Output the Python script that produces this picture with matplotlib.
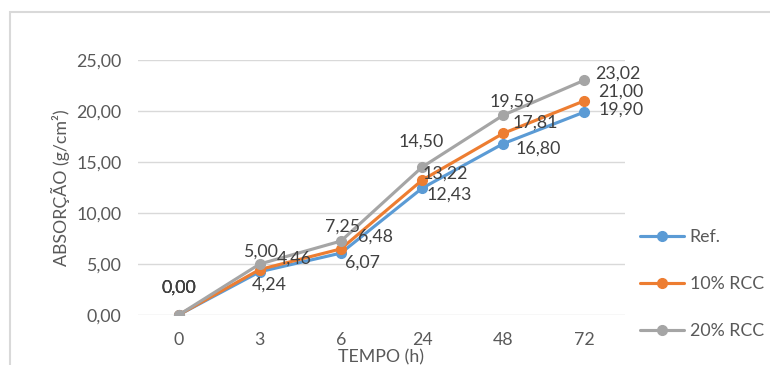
import matplotlib
matplotlib.use("Agg")
import matplotlib.pyplot as plt
from matplotlib.patches import Rectangle
import numpy as np

categories = ["0", "3", "6", "24", "48", "72"]
ref_vals = [0.00, 4.24, 6.07, 12.43, 16.80, 19.90]
rcc10_vals = [0.00, 4.46, 6.48, 13.22, 17.81, 21.00]
rcc20_vals = [0.00, 5.00, 7.25, 14.50, 19.59, 23.02]
series_names = ["Ref.", "10% RCC", "20% RCC"]
yticks = [0, 5, 10, 15, 20, 25]

colors = ["#5B9BD5", "#ED7D31", "#A5A5A5"]
# label offsets in pixels (dx of label centre, dy) per series / point
offsets = [
    [(0, 27), (9, -13), (22, -10), (27, -6), (35, -5), (37, 2)],
    [(0, 27), (34, 11), (35, 12), (23, 7), (32, 11), (36, 9)],
    [(0, 27), (1, 12), (2, 14), (-1, 25), (9, 14), (33, 7)],
]

FS = 12.8
plt.rcParams['font.family'] = ['Lato', 'DejaVu Sans']

fig = plt.figure(figsize=(7.7, 3.65), dpi=100)
W, H = 770, 365
ax = fig.add_axes([138 / W, 1 - 315 / H, (625 - 138) / W, (315 - 60) / H])

x = np.arange(len(categories))
all_vals = [ref_vals, rcc10_vals, rcc20_vals]
for i, (vals, name) in enumerate(zip(all_vals, series_names)):
    ax.plot(x, vals, color=colors[i], lw=2.25, marker='o', ms=7,
            label=name, zorder=3 + i, solid_capstyle='round')
    for j, v in enumerate(vals):
        dx, dy = offsets[i][j]
        ax.annotate(f"{v:.2f}".replace('.', ','), (x[j], v),
                    xytext=(dx, dy), textcoords='offset pixels',
                    ha='center', va='center', fontsize=FS, color='#404040',
                    zorder=10)

ax.set_xlim(-0.5, len(categories) - 0.5)
ax.set_ylim(0, 25)
ax.set_yticks(yticks)
ax.set_yticklabels([f"{t:.2f}".replace('.', ',') for t in yticks])
ax.set_xticks(x)
ax.set_xticklabels(categories)
ax.tick_params(axis='both', length=0, labelsize=FS, labelcolor='#595959')
ax.tick_params(axis='y', pad=12)
ax.tick_params(axis='x', pad=12)
ax.grid(axis='y', color='#D9D9D9', lw=1)
ax.set_axisbelow(True)
for s in ax.spines.values():
    s.set_visible(False)
ax.set_facecolor('none')

fig.text(381 / W, 1 - 357 / H, "TEMPO (h)", ha='center', va='center',
         fontsize=FS, color='#595959')
fig.text(60 / W, 1 - 188 / H, "ABSORÇÃO (g/cm²)", ha='center', va='center',
         rotation=90, fontsize=FS, color='#595959')

fig.patches.append(Rectangle((10 / W, -0.1), 1.2, 1 - 12 / H + 0.1,
                             transform=fig.transFigure, fill=False,
                             edgecolor='#D9D9D9', lw=1.5))

handles, labels = ax.get_legend_handles_labels()
leg = fig.legend(handles, labels, loc='center left',
                 bbox_to_anchor=(640 / W, 1 - 284 / H), frameon=False,
                 fontsize=FS, labelcolor='#595959', handlelength=2.5,
                 handletextpad=0.3, labelspacing=1.75, borderpad=0,
                 borderaxespad=0)

fig.savefig("out.png", dpi=100)
